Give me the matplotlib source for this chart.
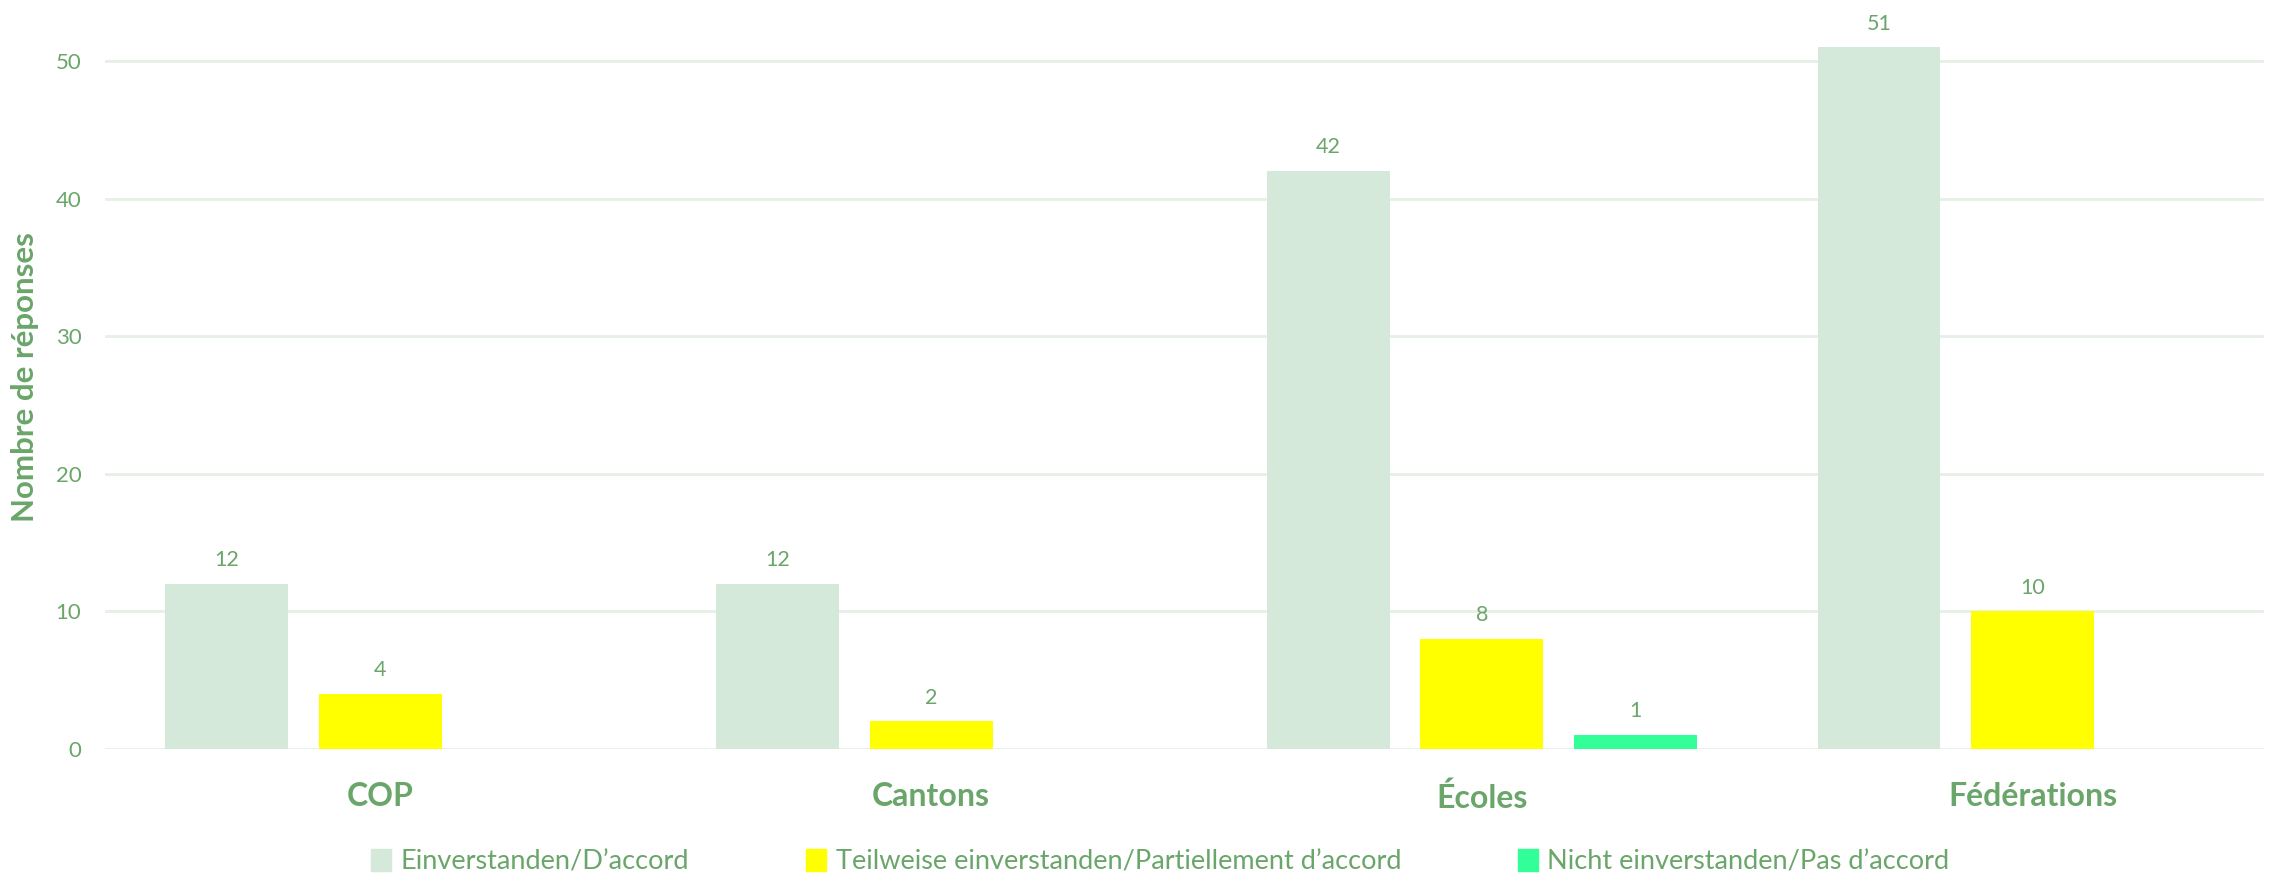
import numpy as np
import matplotlib.pyplot as plt
from matplotlib.patches import Patch

# data
categories = ['COP', 'Cantons', 'Écoles', 'Fédérations']
series_names = ['Einverstanden/D’accord',
                'Teilweise einverstanden/Partiellement d’accord',
                'Nicht einverstanden/Pas d’accord']
accord = [12, 12, 42, 51]
partiel = [4, 2, 8, 10]
pas_accord = [0, 0, 1, 0]
yticks = [0, 10, 20, 30, 40, 50]

colors = ['#D5E9DA', '#FFFF00', '#33FF99']
txt = '#6AA56A'
plt.rcParams['font.family'] = ['Lato', 'DejaVu Sans']

fig = plt.figure(figsize=(22.93, 8.76), dpi=100)
ax = fig.add_axes([0.0458, 0.145, 0.9415, 0.848])

x = np.arange(len(categories))
w = 0.223
step = 0.279
for i, (vals, c) in enumerate(zip([accord, partiel, pas_accord], colors)):
    pos = x + (i - 1) * step
    bars = ax.bar(pos, vals, width=w, color=c, zorder=3)
    for b, v in zip(bars, vals):
        if v == 0:
            b.set_visible(False)  # empty slot, no label
            continue
        ax.annotate(str(v), (b.get_x() + b.get_width() / 2, v), xytext=(0, 10),
                    textcoords='offset points', ha='center', va='bottom',
                    fontsize=15.5, color=txt)

ax.set_xlim(-0.5, 3.42)
ax.set_ylim(0, 54.0)
ax.set_yticks(yticks)
ax.set_xticks(x)
ax.set_xticklabels(categories, fontsize=23, fontweight='bold', color=txt)
ax.tick_params(axis='x', length=0, pad=24)
ax.tick_params(axis='y', length=0, labelsize=16, labelcolor=txt, pad=17)
ax.grid(axis='y', color='#E6F0E6', linewidth=2, zorder=0)
for s in ax.spines.values():
    s.set_visible(False)
ax.set_ylabel('Nombre de réponses', fontsize=22.5, fontweight='bold', color=txt, labelpad=12)

handles = [Patch(color=c) for c in colors]
leg = fig.legend(handles, series_names, loc='lower center', ncol=3,
                 bbox_to_anchor=(0.506, -0.026), frameon=False,
                 fontsize=19.5, handlelength=0.75, handleheight=0.9, handletextpad=0.35,
                 columnspacing=4.3)
for t in leg.get_texts():
    t.set_color(txt)

fig.savefig('out.png', dpi=100)
